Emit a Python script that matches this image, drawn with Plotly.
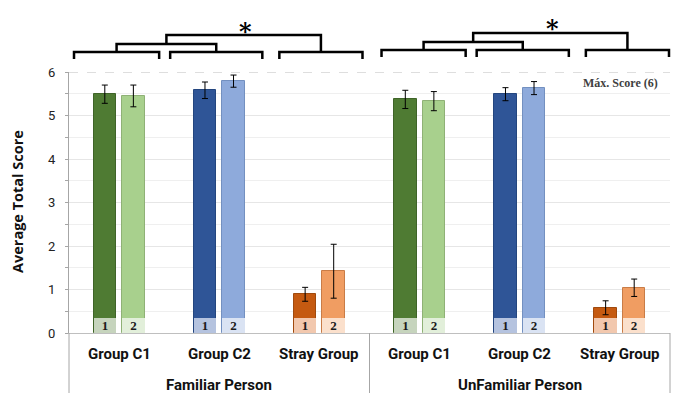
import plotly.graph_objects as go

# ---------------- data ----------------
categories = ["Group C1", "Group C2", "Stray Group", "Group C1", "Group C2", "Stray Group"]
groups = ["Familiar Person", "UnFamiliar Person"]
session1 = [5.49, 5.58, 0.89, 5.37, 5.49, 0.58]
session1_err = [0.21, 0.19, 0.16, 0.21, 0.15, 0.16]
session2 = [5.45, 5.79, 1.42, 5.33, 5.63, 1.04]
session2_err = [0.25, 0.14, 0.62, 0.22, 0.15, 0.20]
bar_labels = ["1", "2"]
y_ticks = [0, 1, 2, 3, 4, 5, 6]
max_score_label = "Máx. Score (6)"

# ---------------- styles ----------------
W, H = 690, 396
ML, MR, MT, MB = 69, 20, 72, 63
XMIN, XMAX = -0.5, 5.5
BASE_H = 0.35
BW = 0.225
OFF1, OFF2 = -0.255, 0.03

c1_main = ["#4f7b33", "#2f5597", "#c55a11"] * 2
c2_main = ["#a8d08d", "#8eaadb", "#f09d62"] * 2
c1_line = ["#3f6428", "#24467f", "#a04a0e"] * 2
c2_line = ["#8fb176", "#7390c0", "#c97c47"] * 2
c1_base = ["#c6d4bd", "#b5c3df", "#f2c8ae"] * 2
c2_base = ["#e2efda", "#dae3f3", "#fbe0cc"] * 2

xs = list(range(len(categories)))

fig = go.Figure()
err_style = dict(type="data", thickness=1, width=3, color="#000000")

fig.add_trace(go.Bar(x=xs, y=session1, offset=OFF1, width=BW,
                     marker=dict(color=c1_main, line=dict(color=c1_line, width=1)),
                     error_y=dict(array=session1_err, **err_style), showlegend=False))
fig.add_trace(go.Bar(x=xs, y=session2, offset=OFF2, width=BW,
                     marker=dict(color=c2_main, line=dict(color=c2_line, width=1)),
                     error_y=dict(array=session2_err, **err_style), showlegend=False))
label_font = dict(family="Liberation Serif", size=13, color="#1a1a1a", weight="bold")
fig.add_trace(go.Bar(x=xs, y=[BASE_H] * len(xs), offset=OFF1, width=BW,
                     marker=dict(color=c1_base, line=dict(width=0)),
                     text=[bar_labels[0]] * len(xs), textposition="inside",
                     insidetextanchor="middle", textfont=label_font, textangle=0,
                     constraintext="none",
                     showlegend=False, hoverinfo="skip"))
fig.add_trace(go.Bar(x=xs, y=[BASE_H] * len(xs), offset=OFF2, width=BW,
                     marker=dict(color=c2_base, line=dict(width=0)),
                     text=[bar_labels[1]] * len(xs), textposition="inside",
                     insidetextanchor="middle", textfont=label_font, textangle=0,
                     constraintext="none",
                     showlegend=False, hoverinfo="skip"))

plot_w = W - ML - MR
plot_h = H - MT - MB


def px_y(py):
    return (H - MB - py) / plot_h


def dx(x):
    return (x - XMIN) / (XMAX - XMIN)


shapes = []
line_gray = "#a6a6a6"
# top dashed max line
shapes.append(dict(type="line", xref="paper", yref="y", x0=0, x1=1, y0=6, y1=6,
                   line=dict(color="#bdbdbd", width=1, dash="dash")))
# vertical dividers below the axis
for xp in [0, 0.5, 1]:
    shapes.append(dict(type="line", xref="paper", yref="paper", x0=xp, x1=xp,
                       y0=0, y1=px_y(H - 3), line=dict(color=line_gray, width=1)))

# significance brackets (data x positions -> paper)
def bracket(x0, x1, ytop, yl, yr):
    return dict(type="path", xref="paper", yref="paper",
                path=f"M {dx(x0)} {px_y(yl)} L {dx(x0)} {px_y(ytop)} L {dx(x1)} {px_y(ytop)} L {dx(x1)} {px_y(yr)}",
                line=dict(color="#000000", width=2.5))

side_specs = [
    dict(b=[(-0.45, 0.40), (0.51, 1.43), (1.60, 2.43)], ys=52, yl=59, ym=44, yt=35),
    dict(b=[(2.62, 3.46), (3.57, 4.49), (4.66, 5.49)], ys=50, yl=57, ym=42, yt=33),
]
star_x = []
for s in side_specs:
    b = s["b"]
    for (a, c) in b:
        shapes.append(bracket(a, c, s["ys"], s["yl"], s["yl"]))
    m0 = (b[0][0] + b[0][1]) / 2
    m1 = (b[1][0] + b[1][1]) / 2
    shapes.append(bracket(m0, m1, s["ym"], s["ys"], s["ys"]))
    t0 = (m0 + m1) / 2
    t1 = (b[2][0] + b[2][1]) / 2
    shapes.append(bracket(t0, t1, s["yt"], s["ym"], s["ys"]))
    star_x.append(((t0 + t1) / 2, s["yt"]))

annotations = []
for (sx, yt) in star_x:
    annotations.append(dict(text="*", x=dx(sx) + 2 / plot_w, y=px_y(yt - 4), xref="paper", yref="paper",
                            xanchor="center", yanchor="middle", showarrow=False,
                            font=dict(family="DejaVu Serif", size=24, color="#000000", weight="bold")))
for i, cat in enumerate(categories):
    annotations.append(dict(text=cat, x=dx(i), y=px_y(354), xref="paper", yref="paper",
                            xanchor="center", yanchor="middle", showarrow=False,
                            font=dict(family="Roboto", size=15, color="#111111", weight="bold")))
for j, g in enumerate(groups):
    annotations.append(dict(text=g, x=0.25 + 0.5 * j, y=px_y(385), xref="paper", yref="paper",
                            xanchor="center", yanchor="middle", showarrow=False,
                            font=dict(family="Roboto", size=15, color="#111111", weight="bold")))
annotations.append(dict(text="Average Total Score", x=(17 - ML) / plot_w, y=px_y(201),
                        xref="paper", yref="paper", xanchor="center", yanchor="middle",
                        textangle=-90, showarrow=False,
                        font=dict(family="Open Sans", size=14.5, color="#111111", weight="bold")))
annotations.append(dict(text=max_score_label, x=(660 - ML) / plot_w, y=px_y(83),
                        xref="paper", yref="paper", xanchor="right", yanchor="middle",
                        showarrow=False,
                        font=dict(family="Liberation Serif", size=12, color="#404040", weight="bold")))

fig.update_layout(
    width=W, height=H, margin=dict(l=ML, r=MR, t=MT, b=MB),
    paper_bgcolor="white", plot_bgcolor="white",
    barmode="overlay", bargap=0, showlegend=False,
    shapes=shapes, annotations=annotations,
    xaxis=dict(range=[XMIN, XMAX], showticklabels=False, showgrid=False, zeroline=False,
               showline=True, linecolor="#bfbfbf", linewidth=1, ticks=""),
    yaxis=dict(range=[0, 6], tickvals=y_ticks, showgrid=True, gridcolor="#e6e6e6", gridwidth=1,
               minor=dict(dtick=0.5, showgrid=True, gridcolor="#efefef", ticks="outside",
                          ticklen=3, tickcolor=line_gray),
               ticks="outside", ticklen=3, tickcolor=line_gray, ticklabelstandoff=7,
               zeroline=False, showline=True, linecolor=line_gray, linewidth=1,
               tickfont=dict(family="Roboto", size=13, color="#222222")),
)

fig.write_html("out.html", config={"displayModeBar": False},
               post_script="document.body.style.margin='0';document.body.style.padding='0';")
